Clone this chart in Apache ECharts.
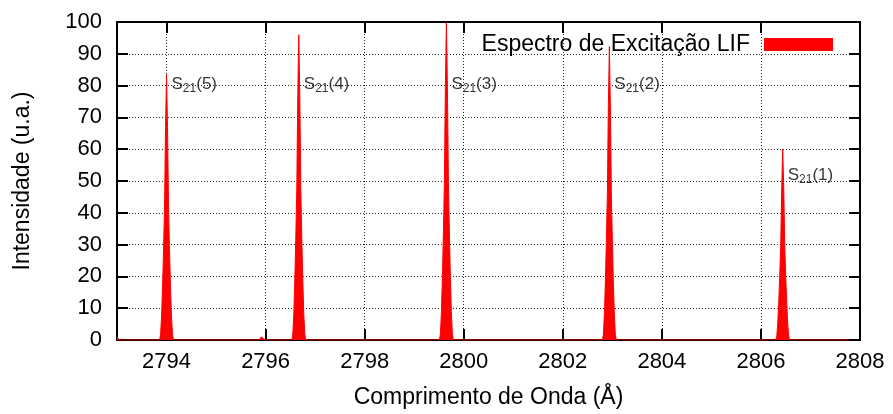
<!DOCTYPE html>
<html>
<head>
<meta charset="utf-8">
<script src="https://cdn.jsdelivr.net/npm/echarts@6/dist/echarts.min.js"></script>
<style>
  html, body { margin: 0; padding: 0; background: #fff; }
  #chart { width: 893px; height: 414px; }
</style>
</head>
<body>
<div id="chart"></div>
<script>
// LIF excitation spectrum: wavelength (Å) and intensity (a.u.)
const wavelength = [
  2793.00, 2793.03, 2793.06,
  2793.86, 2793.88, 2793.90, 2793.92, 2793.94, 2793.96, 2793.97, 2793.98, 2793.99, 2794.00,
  2794.01, 2794.02, 2794.03, 2794.04, 2794.06, 2794.08, 2794.10, 2794.12, 2794.14,
  2795.86, 2795.92, 2795.98,
  2796.53, 2796.55, 2796.57, 2796.59, 2796.61, 2796.63, 2796.64, 2796.65, 2796.66, 2796.67,
  2796.68, 2796.69, 2796.70, 2796.71, 2796.73, 2796.75, 2796.77, 2796.79, 2796.81,
  2799.51, 2799.53, 2799.55, 2799.57, 2799.59, 2799.61, 2799.62, 2799.63, 2799.64, 2799.65,
  2799.66, 2799.67, 2799.68, 2799.69, 2799.71, 2799.73, 2799.75, 2799.77, 2799.79,
  2802.80, 2802.82, 2802.84, 2802.86, 2802.88, 2802.90, 2802.91, 2802.92, 2802.93, 2802.94,
  2802.95, 2802.96, 2802.97, 2802.98, 2803.00, 2803.02, 2803.04, 2803.06, 2803.08,
  2806.30, 2806.32, 2806.34, 2806.36, 2806.38, 2806.40, 2806.41, 2806.42, 2806.43, 2806.44,
  2806.45, 2806.46, 2806.47, 2806.48, 2806.50, 2806.52, 2806.54, 2806.56, 2806.58,
  2808.00
];
const intensity = [
  0.9, 0.3, 0,
  0, 1.7, 7.5, 16.7, 28.4, 41.8, 55.1, 66.8, 75.2, 83.5,
  75.2, 66.8, 55.1, 41.8, 28.4, 16.7, 7.5, 1.7, 0,
  0, 1.0, 0,
  0, 1.9, 8.6, 19.2, 32.6, 48, 63.4, 76.8, 86.4, 96,
  86.4, 76.8, 63.4, 48, 32.6, 19.2, 8.6, 1.9, 0,
  0, 2, 9, 20, 34, 50, 66, 80, 90, 100,
  90, 80, 66, 50, 34, 20, 9, 2, 0,
  0, 1.8, 8.3, 18.5, 31.4, 46.2, 60.9, 73.8, 83.1, 92.3,
  83.1, 73.8, 60.9, 46.2, 31.4, 18.5, 8.3, 1.8, 0,
  0, 1.2, 5.4, 12, 20.4, 30, 39.6, 48, 54, 60,
  54, 48, 39.6, 30, 20.4, 12, 5.4, 1.2, 0,
  0
];

// Line identifications S21(J)
const lineJ = [5, 4, 3, 2, 1];
const lineX = [2794.00, 2796.67, 2799.65, 2802.94, 2806.44];
const lineLabelY = [80.4, 80.4, 80.4, 80.4, 51.7];

const seriesName = 'Espectro de Excitação LIF';
const xTitle = 'Comprimento de Onda (Å)';
const yTitle = 'Intensidade (u.a.)';

const FONT = '"Liberation Sans", Arial, Helvetica, sans-serif';

const spectrum = wavelength.map((w, i) => [w, intensity[i]]);
const labelPoints = lineX.map((x, i) => ({ value: [x, lineLabelY[i]], j: lineJ[i] }));

const chart = echarts.init(document.getElementById('chart'), null, { renderer: 'canvas' });

const dotted = { show: true, lineStyle: { color: '#222', width: 1, type: [1, 2] } };
const frameLine = { show: true, onZero: false, lineStyle: { color: '#000', width: 2 } };
const innerTick = { show: true, inside: true, length: 11, lineStyle: { color: '#000', width: 2 } };

chart.setOption({
  animation: false,
  backgroundColor: '#fff',
  textStyle: { fontFamily: FONT },
  grid: { left: 117, right: 33, top: 22, bottom: 72, containLabel: false },
  legend: {
    data: [seriesName],
    right: 60,
    top: 33,
    padding: 0,
    align: 'right',
    icon: 'rect',
    itemWidth: 69,
    itemHeight: 13,
    textStyle: { fontFamily: FONT, fontSize: 23, color: '#000', padding: [0, 9, 0, 0] }
  },
  graphic: [{
    type: 'rect',
    z: 1,
    silent: true,
    shape: { x: 312, y: 23, width: 535, height: 34 },
    style: { fill: '#fff' }
  }],
  xAxis: [{
    type: 'value',
    min: 2793,
    max: 2808,
    splitNumber: 7,
    position: 'bottom',
    z: 1,
    name: xTitle,
    nameLocation: 'middle',
    nameGap: 46,
    nameTextStyle: { fontFamily: FONT, fontSize: 23, color: '#000' },
    axisLine: frameLine,
    axisTick: innerTick,
    axisLabel: {
      show: true, margin: 11, fontFamily: FONT, fontSize: 22, color: '#000',
      showMinLabel: false, formatter: v => String(v)
    },
    splitLine: dotted
  }, {
    type: 'value',
    min: 2793,
    max: 2808,
    splitNumber: 7,
    position: 'top',
    z: 3,
    axisLine: frameLine,
    axisTick: innerTick,
    axisLabel: { show: false },
    splitLine: { show: false }
  }],
  yAxis: [{
    type: 'value',
    min: 0,
    max: 100,
    interval: 10,
    position: 'left',
    z: 1,
    name: yTitle,
    nameLocation: 'middle',
    nameGap: 83,
    nameTextStyle: { fontFamily: FONT, fontSize: 23, color: '#000' },
    axisLine: frameLine,
    axisTick: innerTick,
    axisLabel: { show: true, margin: 15, fontFamily: FONT, fontSize: 22, color: '#000' },
    splitLine: dotted
  }, {
    type: 'value',
    min: 0,
    max: 100,
    interval: 10,
    position: 'right',
    z: 3,
    axisLine: frameLine,
    axisTick: innerTick,
    axisLabel: { show: false },
    splitLine: { show: false }
  }],
  series: [{
    name: seriesName,
    type: 'line',
    z: 2,
    xAxisIndex: 0,
    yAxisIndex: 0,
    data: spectrum,
    showSymbol: false,
    symbol: 'none',
    sampling: null,
    lineStyle: { color: '#ff0000', width: 1 },
    itemStyle: { color: '#ff0000' },
    areaStyle: { color: '#ff0000', opacity: 1 }
  }, {
    name: 'rótulos',
    type: 'scatter',
    z: 4,
    silent: true,
    symbolSize: 0,
    data: labelPoints,
    label: {
      show: true,
      position: 'right',
      distance: 5,
      color: '#000',
      formatter: p => '{s|S}{sub|21}{s|(' + p.data.j + ')}',
      rich: {
        s: { fontFamily: FONT, fontSize: 17, lineHeight: 20, color: '#000' },
        sub: { fontFamily: FONT, fontSize: 12, lineHeight: 10, verticalAlign: 'bottom', color: '#000' }
      }
    }
  }]
});
</script>
</body>
</html>
